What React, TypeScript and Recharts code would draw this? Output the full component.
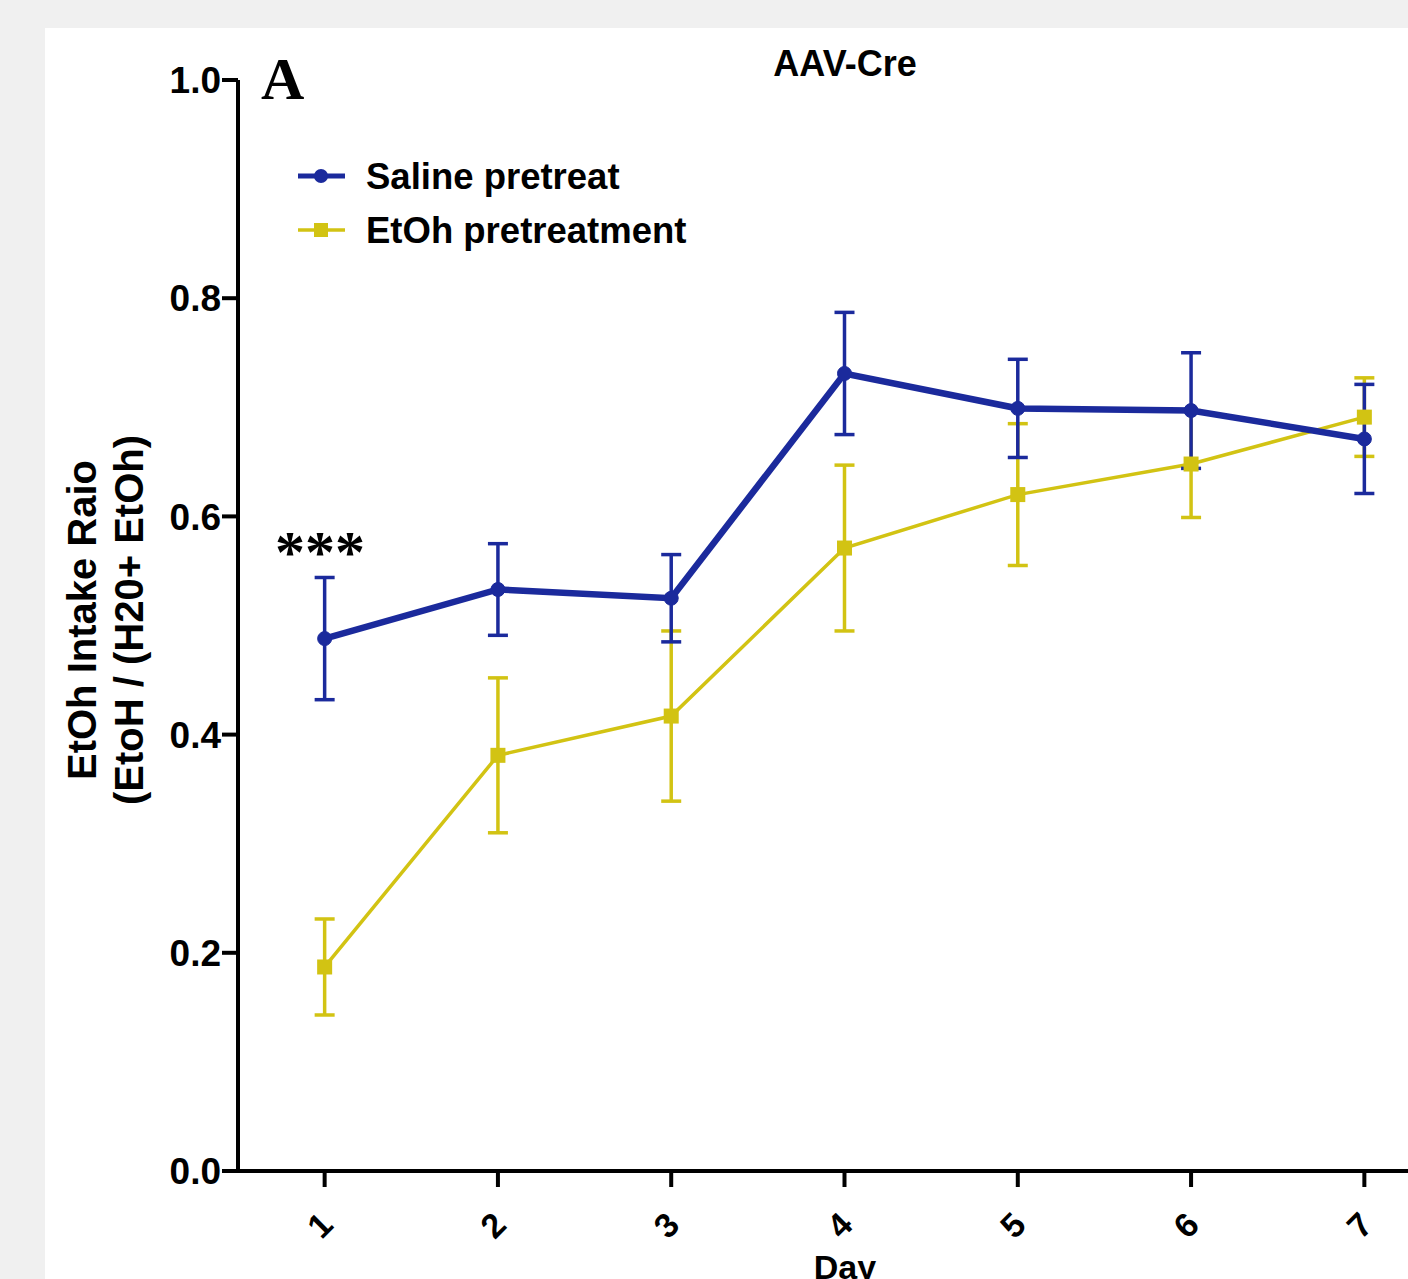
import { LineChart, Line, XAxis, YAxis, ErrorBar, Legend } from 'recharts';

const days = [1, 2, 3, 4, 5, 6, 7];
const salineMean = [0.488, 0.533, 0.525, 0.731, 0.699, 0.697, 0.671];
const salineSem = [0.056, 0.042, 0.040, 0.056, 0.045, 0.053, 0.050];
const etohMean = [0.187, 0.381, 0.417, 0.571, 0.620, 0.648, 0.691];
const etohSem = [0.044, 0.071, 0.078, 0.076, 0.065, 0.049, 0.036];
const yTicks = [0, 0.2, 0.4, 0.6, 0.8, 1.0];

const BLUE = '#1b2a9c';
const YELLOW = '#d2c313';
const SANS = '"Liberation Sans", Arial, sans-serif';
const SERIF = '"Liberation Serif", "Times New Roman", serif';

const data = days.map((d, i) => ({
  day: d,
  saline: salineMean[i],
  salineErr: salineSem[i],
  etoh: etohMean[i],
  etohErr: etohSem[i],
}));

const SquareDot = (props: any) => {
  const { cx, cy, index } = props;
  if (cx == null || cy == null) return null;
  return <rect key={`sq-${index}`} x={cx - 7.5} y={cy - 7.5} width={15} height={15} fill={YELLOW} />;
};

const XTick = (props: any) => {
  const { x, payload } = props;
  const cx = x - 5;
  const cy = 1225;
  return (
    <text
      x={cx}
      y={cy}
      textAnchor="middle"
      dominantBaseline="central"
      transform={`rotate(-45 ${cx} ${cy})`}
      fontFamily={SANS}
      fontWeight="bold"
      fontSize={34}
      fill="#000"
    >
      {payload.value}
    </text>
  );
};

const LegendContent = (props: any) => {
  const items = [...(props.payload || [])].reverse();
  return (
    <svg width={420} height={110}>
      {items.map((item: any, i: number) => {
        const y = 26 + i * 54;
        const isSaline = item.dataKey === 'saline';
        return (
          <g key={item.dataKey}>
            <line x1={8} x2={55} y1={y} y2={y} stroke={item.color} strokeWidth={isSaline ? 5 : 3.5} />
            {isSaline ? (
              <circle cx={31} cy={y} r={7} fill={item.color} />
            ) : (
              <rect x={24} y={y - 7} width={14} height={14} fill={item.color} />
            )}
            <text x={76} y={y} dominantBaseline="central" fontFamily={SANS} fontWeight="bold" fontSize={36.5} fill="#000">
              {item.value}
            </text>
          </g>
        );
      })}
    </svg>
  );
};

export default function App() {
  return (
    <div style={{ position: 'absolute', left: 0, top: 0, width: 1408, height: 1279, background: '#f0f0f0', overflow: 'hidden' }}>
      <div style={{ position: 'absolute', left: 45, top: 28, width: 1363, height: 1251, background: '#ffffff' }} />
      <div style={{ position: 'absolute', left: 0, top: 0 }}>
        <LineChart width={1460} height={1279} data={data} margin={{ top: 80, right: 9, bottom: 0, left: 0 }}>
          <XAxis
            dataKey="day"
            type="number"
            domain={[0.5, 7.5]}
            ticks={days}
            height={108}
            axisLine={{ stroke: '#000', strokeWidth: 4 }}
            tickLine={{ stroke: '#000', strokeWidth: 4 }}
            tickSize={16}
            tick={<XTick />}
          />
          <YAxis
            type="number"
            domain={[0, 1]}
            ticks={yTicks}
            width={238}
            axisLine={{ stroke: '#000', strokeWidth: 4 }}
            tickLine={{ stroke: '#000', strokeWidth: 4 }}
            tickSize={16}
            tickMargin={1}
            tickFormatter={(v: number) => v.toFixed(1)}
            tick={{ fontFamily: SANS, fontWeight: 'bold', fontSize: 37, fill: '#000' }}
          />
          <Legend
            layout="vertical"
            verticalAlign="middle"
            align="center"
            content={<LegendContent />}
            wrapperStyle={{ position: 'absolute', left: 290, top: 150, width: 420, height: 110 }}
          />
          <Line
            dataKey="etoh"
            name="EtOh pretreatment"
            stroke={YELLOW}
            strokeWidth={3.5}
            dot={<SquareDot />}
            activeDot={false}
            isAnimationActive={false}
          >
            <ErrorBar dataKey="etohErr" direction="y" width={10} stroke={YELLOW} strokeWidth={3.5} isAnimationActive={false} />
          </Line>
          <Line
            dataKey="saline"
            name="Saline pretreat"
            stroke={BLUE}
            strokeWidth={6.5}
            dot={{ r: 7, fill: BLUE, stroke: BLUE, strokeWidth: 1 }}
            activeDot={false}
            isAnimationActive={false}
          >
            <ErrorBar dataKey="salineErr" direction="y" width={10} stroke={BLUE} strokeWidth={3.5} isAnimationActive={false} />
          </Line>
        </LineChart>
      </div>
      <svg width={1408} height={1279} style={{ position: 'absolute', left: 0, top: 0, pointerEvents: 'none' }}>
        <text x={261} y={99} fontFamily={SERIF} fontWeight="bold" fontSize={60} fill="#000">A</text>
        <text x={845} y={76} textAnchor="middle" fontFamily={SANS} fontWeight="bold" fontSize={36} fill="#000">AAV-Cre</text>
        <text x={320} y={572} textAnchor="middle" fontFamily={SERIF} fontWeight="bold" fontSize={60} fill="#000">***</text>
        <text x={82} y={620} textAnchor="middle" dominantBaseline="central" transform="rotate(-90 82 620)" fontFamily={SANS} fontWeight="bold" fontSize={40} fill="#000">
          EtOh Intake Raio
        </text>
        <text x={129} y={620} textAnchor="middle" dominantBaseline="central" transform="rotate(-90 129 620)" fontFamily={SANS} fontWeight="bold" fontSize={40} fill="#000">
          (EtoH / (H20+ EtOh)
        </text>
        <text x={845} y={1279} textAnchor="middle" fontFamily={SANS} fontWeight="bold" fontSize={34} fill="#000">Day</text>
      </svg>
    </div>
  );
}
